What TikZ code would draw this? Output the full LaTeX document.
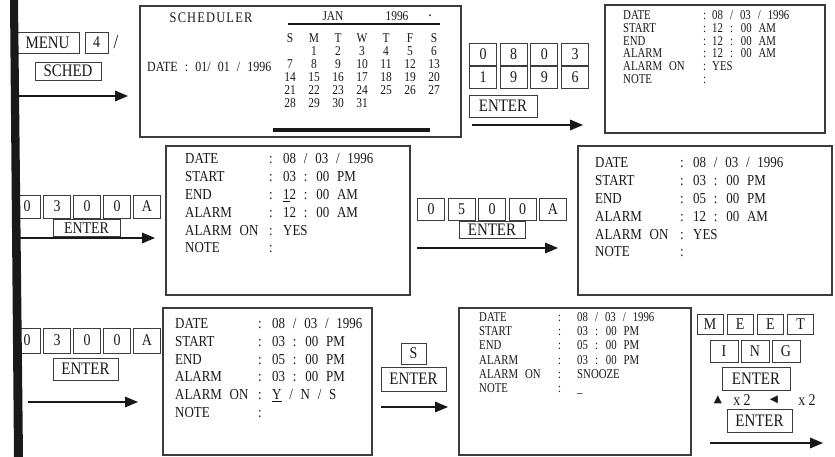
\documentclass[tikz,border=0pt]{standalone}
\usepackage{fontspec}
\setmainfont{Liberation Serif}[FakeStretch=0.85]
\newfontfamily\lcdfont{Liberation Serif}[FakeStretch=0.85,WordSpace=2.4]
\newfontfamily\lcdnarrow{Liberation Serif}[FakeStretch=0.8,WordSpace=2.6]
\newfontfamily\symfont{DejaVu Sans}
\usetikzlibrary{arrows.meta}
\definecolor{scInk}{RGB}{25,25,25}
\definecolor{scLine}{RGB}{60,60,60}

\tikzset{
  screen/.style={draw=scLine, line width=1pt},
  keycap/.style={draw=scLine, line width=0.7pt, inner sep=0pt, minimum width=0.81cm,
    minimum height=0.66cm, font=\fontsize{14}{14}\selectfont},
  wkey/.style={keycap, font=\fontsize{15}{15}\selectfont},
  flow/.style={-{Triangle[length=11pt,width=9pt]}, line width=1.1pt, scInk},
  lcd/.style={anchor=base west, inner sep=0pt, font=\lcdnarrow\fontsize{11.5}{13}\selectfont},
  lcdbig/.style={lcd, font=\lcdfont\fontsize{13}{15}\selectfont},
  cal/.style={inner sep=0pt, font=\fontsize{11.5}{11.5}\selectfont},
}

% one screen of fields: prefix, style, label x, colon x, value x, first baseline, step, values
\newcommand{\fieldset}[8]{%
  \foreach \lab [count=\i] in {DATE,START,END,ALARM,ALARM ON,NOTE} {
    \node[#2] (#1l\i) at (#3,#6+#7*\i-#7) {\lab};
    \node[#2] (#1c\i) at (#4,#6+#7*\i-#7) {:};
  }
  \foreach \val [count=\i] in {#8} {
    \node[#2] (#1v\i) at (#5,#6+#7*\i-#7) {\val};
  }}

\begin{document}
\begin{tikzpicture}[x=0.03cm, y=-0.03cm, every node/.style={text=scInk}]
  \useasboundingbox (0,0) rectangle (835,457);
  \fill[white] (0,0) rectangle (835,457);

  % Row 1: MENU 4 / SCHED
  \node[wkey, minimum width=1.89cm, minimum height=0.63cm] (menu) at (47.5,42.5) {MENU};
  \node[keycap, minimum width=0.69cm, minimum height=0.63cm] (four) at (96.5,42.5) {4};
  \node[font=\fontsize{17}{17}\selectfont] (slash) at (116,42) {/};
  \node[wkey, minimum width=1.98cm, minimum height=0.54cm] (sched) at (68,71) {SCHED};
  \coordinate (a1s) at (16,96);
  \coordinate (a1e) at (128,96);
  \draw[flow] (a1s) -- (a1e);

  % Scheduler screen with calendar
  \draw[screen] (140,6) rectangle (461,137);
  \node[cal, font=\fontsize{12.5}{12.5}\selectfont] (title) at (211,18) {\addfontfeature{LetterSpace=8}SCHEDULER};
  \node[lcd, font=\lcdfont\fontsize{12}{13}\selectfont] (today) at (147,72) {DATE : 01/ 01 / 1996};
  \node[cal] (month) at (333,16) {JAN};
  \node[cal] (year) at (397,16) {1996};
  \node[cal, font=\fontsize{7}{7}\selectfont] (dot) at (430,17) {\textbullet};
  \draw[line width=2.5pt, scInk] (288,24) -- (440,24);
  \draw[line width=3pt, scInk] (273,130) -- (430,130);
  \foreach \dn [count=\i from 0] in {S,M,T,W,T,F,S}
    \node[cal] (h\i) at (290+24*\i,38) {\dn};
  \foreach \d in {1,...,31} {
    \pgfmathsetmacro\col{mod(\d,7)}
    \pgfmathsetmacro\row{floor(\d/7)+1}
    \node[cal] (d\d) at (290+24*\col,38+13*\row) {\d};
  }

  % Date keys 0803 1996
  \foreach \k [count=\i from 0] in {0,8,0,3}
    \node[keycap] (da\i) at (483+30.7*\i,54) {\k};
  \foreach \k [count=\i from 0] in {1,9,9,6}
    \node[keycap] (db\i) at (483+30.7*\i,77.5) {\k};
  \node[wkey, minimum width=2.04cm] (enter1) at (503,106) {ENTER};
  \coordinate (a2s) at (472,125);
  \coordinate (a2e) at (583,125);
  \draw[flow] (a2s) -- (a2e);

  \draw[screen] (605,5) rectangle (825,133);
  \fieldset{b}{lcd}{623}{703}{712}{19.5}{12.8}{08 / 03 / 1996, 12 : 00 AM, 12 : 00 AM, 12 : 00 AM, YES}

  % Row 2: start time
  \foreach \k [count=\i from 0] in {0,3,0,0,A}
    \node[keycap, minimum height=0.69cm] (sa\i) at (27+30*\i,206.5) {\k};
  \node[wkey, minimum width=2.01cm, minimum height=0.51cm, font=\fontsize{14}{14}\selectfont] (enter2) at (86.5,228) {ENTER};
  \coordinate (a3s) at (16,238);
  \coordinate (a3e) at (155,238);
  \draw[flow] (a3s) -- (a3e);

  \draw[screen] (166,146) rectangle (410,295);
  \fieldset{c}{lcdbig}{185}{269}{283}{164}{17.8}{08 / 03 / 1996, 03 : 00 PM, \underline{1}2 : 00 AM, 12 : 00 AM, YES}

  % end time
  \foreach \k [count=\i from 0] in {0,5,0,0,A}
    \node[keycap] (ea\i) at (431+30.5*\i,209) {\k};
  \node[wkey, minimum width=1.98cm, minimum height=0.51cm] (enter3) at (492,229.5) {ENTER};
  \coordinate (a4s) at (417,248);
  \coordinate (a4e) at (558,248);
  \draw[flow] (a4s) -- (a4e);

  \draw[screen] (578,146) rectangle (832,295);
  \fieldset{d}{lcdbig}{595}{680}{693}{168}{17.8}{08 / 03 / 1996, 03 : 00 PM, 05 : 00 PM, 12 : 00 AM, YES}

  % Row 3: alarm time
  \foreach \k [count=\i from 0] in {0,3,0,0,A}
    \node[keycap, minimum height=0.75cm] (la\i) at (27+30*\i,340.5) {\k};
  \node[wkey, minimum width=1.95cm] (enter4) at (85.5,369) {ENTER};
  \coordinate (a5s) at (28,402);
  \coordinate (a5e) at (138,402);
  \draw[flow] (a5s) -- (a5e);

  \draw[screen] (163,308) rectangle (372,455);
  \fieldset{e}{lcdbig}{175}{258}{272}{329}{17.6}{08 / 03 / 1996, 03 : 00 PM, 05 : 00 PM, 03 : 00 PM, \underline{Y} / N / S}

  % snooze
  \node[keycap, minimum width=0.75cm, minimum height=0.63cm] (snz) at (413.5,353.5) {S};
  \node[wkey, minimum width=1.95cm, minimum height=0.72cm] (enter5) at (413.5,379) {ENTER};
  \coordinate (a6s) at (381,407);
  \coordinate (a6e) at (448,407);
  \draw[flow] (a6s) -- (a6e);

  \draw[screen] (459,308) rectangle (691,455);
  \fieldset{f}{lcd}{479}{558}{577}{321.5}{14.2}{08 / 03 / 1996, 03 : 00 PM, 05 : 00 PM, 03 : 00 PM, SNOOZE, \_}

  % note text
  \foreach \k [count=\i from 0] in {M,E,E,T}
    \node[keycap, minimum width=0.78cm, minimum height=0.6cm] (ma\i) at (710+30.2*\i,324.5) {\k};
  \foreach \k [count=\i from 0] in {I,N,G}
    \node[keycap, minimum width=0.84cm] (mb\i) at (724+31*\i,351) {\k};
  \node[wkey, minimum width=2.04cm, minimum height=0.69cm] (enter6) at (756,378.5) {ENTER};
  \node[font=\symfont\fontsize{9}{9}\selectfont] (up) at (718,400) {▲};
  \node[font=\fontsize{14}{14}\selectfont] (upx) at (742,400) {x 2};
  \node[font=\symfont\fontsize{9}{9}\selectfont] (left) at (774,400) {◀};
  \node[font=\fontsize{14}{14}\selectfont] (leftx) at (807,400) {x 2};
  \node[wkey, minimum width=1.95cm, minimum height=0.69cm] (enter7) at (759.5,420.5) {ENTER};
  \coordinate (a7s) at (710,443);
  \coordinate (a7e) at (823,443);
  \draw[flow] (a7s) -- (a7e);

  % Binding edge
  \fill[scInk] (10,0) -- (18,0) -- (23,457) -- (14,457) -- cycle;
\end{tikzpicture}
\end{document}
